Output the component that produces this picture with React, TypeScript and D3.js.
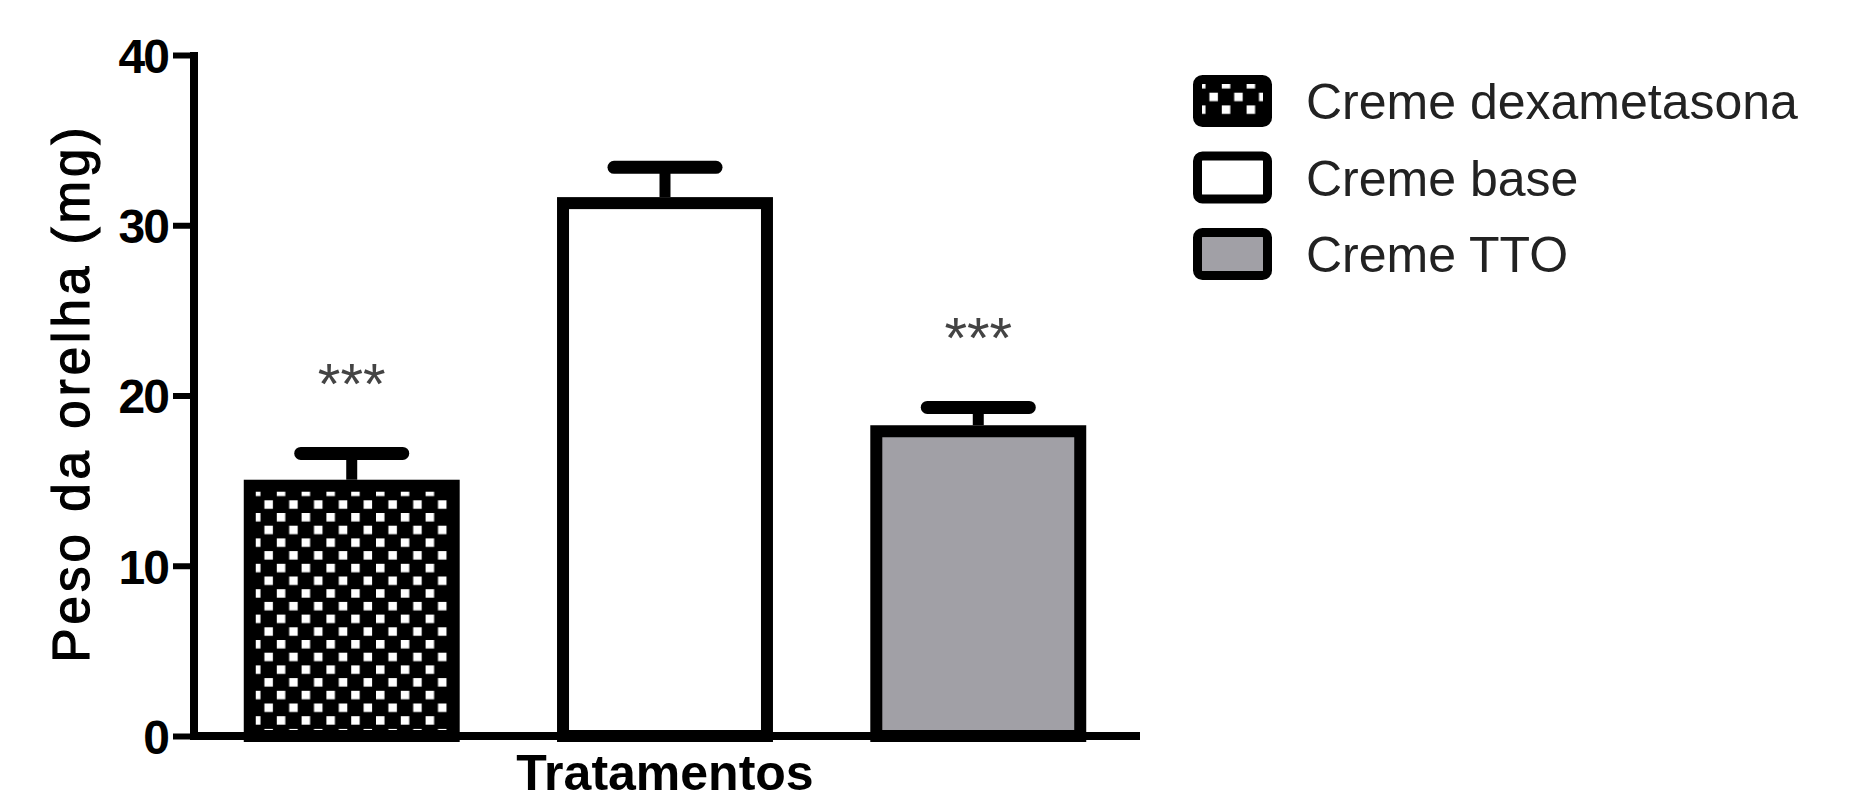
import React, { useEffect, useRef } from "react";
import { select, scaleBand, scaleLinear, axisLeft } from "d3";

// group names, mean ear weight (mg) and SEM
const categories = ["Creme dexametasona", "Creme base", "Creme TTO"];
const means = [14.7, 31.3, 17.9];
const sems = [1.9, 2.1, 1.4];
const significance = ["***", "", "***"];
const yTicks = [0, 10, 20, 30, 40];
const fills = ["url(#dots)", "#ffffff", "#a1a0a6"];

const W = 1858;
const H = 801;
const FONT = "'Liberation Sans', Arial, Helvetica, sans-serif";

const App = () => {
  const svgRef = useRef<SVGSVGElement>(null);

  useEffect(() => {
    const svg = select(svgRef.current);
    svg.selectAll(".chart").remove();
    const g = svg.append("g").attr("class", "chart");

    const xScale = scaleBand<string>()
      .domain(categories)
      .range([194, 1136])
      .paddingInner(0.349)
      .paddingOuter(0.178);
    const yScale = scaleLinear().domain([0, 40]).range([736, 55]);

    const data = categories.map((c, i) => ({
      name: c,
      mean: means[i],
      sem: sems[i],
      sig: significance[i],
      fill: fills[i],
    }));

    // bars
    g.selectAll(".bar")
      .data(data)
      .join("rect")
      .attr("class", "bar")
      .attr("x", (d) => xScale(d.name)!)
      .attr("width", xScale.bandwidth())
      .attr("y", (d) => yScale(d.mean))
      .attr("height", (d) => yScale(0) - yScale(d.mean))
      .attr("fill", (d) => d.fill)
      .attr("stroke", "#000")
      .attr("stroke-width", 12);

    const cx = (d) => xScale(d.name)! + xScale.bandwidth() / 2;

    // error bars (upper SEM only)
    g.selectAll(".stem")
      .data(data)
      .join("line")
      .attr("class", "stem")
      .attr("x1", cx)
      .attr("x2", cx)
      .attr("y1", (d) => yScale(d.mean) - 6)
      .attr("y2", (d) => yScale(d.mean + d.sem))
      .attr("stroke", "#000")
      .attr("stroke-width", 11);

    g.selectAll(".cap")
      .data(data)
      .join("line")
      .attr("class", "cap")
      .attr("x1", (d) => cx(d) - 51)
      .attr("x2", (d) => cx(d) + 51)
      .attr("y1", (d) => yScale(d.mean + d.sem))
      .attr("y2", (d) => yScale(d.mean + d.sem))
      .attr("stroke", "#000")
      .attr("stroke-width", 13)
      .attr("stroke-linecap", "round");

    g.selectAll(".sig")
      .data(data.filter((d) => d.sig))
      .join("text")
      .attr("class", "sig")
      .attr("x", cx)
      .attr("y", (d) => yScale(d.mean + d.sem) - 49)
      .attr("text-anchor", "middle")
      .style("font-family", FONT)
      .style("font-size", "58px")
      .attr("fill", "#444")
      .text((d) => d.sig);

    // y axis
    const yAxis = axisLeft(yScale).tickValues(yTicks).tickSize(21).tickSizeOuter(0).tickPadding(5);
    const ya = g.append("g").attr("transform", "translate(194,0)").call(yAxis);
    ya.select(".domain").attr("stroke", "#000").attr("stroke-width", 8).attr("d", "M0,52V740");
    ya.selectAll(".tick line").attr("stroke", "#000").attr("stroke-width", 6);
    ya.selectAll(".tick text")
      .attr("fill", "#000")
      .attr("dy", "0.36em")
      .style("font-family", FONT)
      .style("font-size", "48px")
      .style("font-weight", "bold")
      .style("letter-spacing", "-2px");

    // x axis line
    g.append("line")
      .attr("x1", 190)
      .attr("x2", 1140)
      .attr("y1", yScale(0))
      .attr("y2", yScale(0))
      .attr("stroke", "#000")
      .attr("stroke-width", 8);

    // axis titles
    g.append("text")
      .attr("transform", "translate(89,395) rotate(-90)")
      .attr("text-anchor", "middle")
      .attr("textLength", 535)
      .attr("lengthAdjust", "spacing")
      .attr("stroke", "#000")
      .attr("stroke-width", 1.2)
      .style("font-family", FONT)
      .style("font-size", "51px")
      .text("Peso da orelha (mg)");

    g.append("text")
      .attr("x", 665)
      .attr("y", 790)
      .attr("text-anchor", "middle")
      .style("font-family", FONT)
      .style("font-size", "50px")
      .style("font-weight", "bold")
      .text("Tratamentos");

    // legend
    const lg = g
      .selectAll(".legend")
      .data(data)
      .join("g")
      .attr("class", "legend")
      .attr("transform", (d, i) => `translate(1193, ${75 + i * 76.5})`);
    lg.append("rect")
      .attr("x", 4.5)
      .attr("y", 4.5)
      .attr("width", 70)
      .attr("height", 43)
      .attr("rx", 5)
      .attr("fill", (d) => d.fill)
      .attr("stroke", "#000")
      .attr("stroke-width", 9);
    lg.append("text")
      .attr("x", 113)
      .attr("y", 26 + 18)
      .style("font-family", FONT)
      .style("font-size", "50px")
      .attr("fill", "#222")
      .text((d) => d.name);
  }, []);

  return (
    <svg
      ref={svgRef}
      width={W}
      height={H}
      style={{ position: "absolute", left: 0, top: 0, background: "#fff" }}
    >
      <defs>
        <pattern id="dots" patternUnits="userSpaceOnUse" width="24.8" height="25.4" x="4" y="5">
          <rect width="24.8" height="25.4" fill="#000" />
          <rect x="0" y="0" width="8.5" height="8.5" fill="#fff" />
          <rect x="12.4" y="12.7" width="8.5" height="8.5" fill="#fff" />
        </pattern>
      </defs>
    </svg>
  );
};

export default App;
